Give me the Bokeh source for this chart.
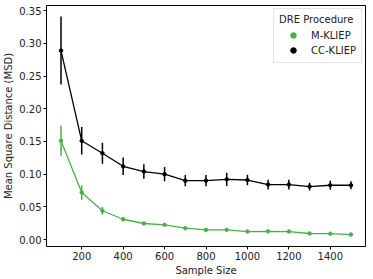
from bokeh.plotting import figure
from bokeh.models import Legend, LegendItem, FixedTicker, ColumnDataSource, Range1d
from bokeh.embed import file_html
from bokeh.resources import INLINE

sample_size = [100, 200, 300, 400, 500, 600, 700, 800, 900, 1000, 1100, 1200, 1300, 1400, 1500]

m_kliep = [0.151, 0.072, 0.044, 0.031, 0.0245, 0.0225, 0.0173, 0.0148, 0.0148, 0.0122, 0.0125, 0.0122, 0.0092, 0.0089, 0.0076]
m_kliep_err = [0.023, 0.011, 0.006, 0.003, 0.002, 0.002, 0.0015, 0.0015, 0.0015, 0.0012, 0.0012, 0.0012, 0.001, 0.001, 0.001]

cc_kliep = [0.289, 0.151, 0.132, 0.112, 0.104, 0.100, 0.090, 0.090, 0.092, 0.091, 0.084, 0.084, 0.081, 0.083, 0.083]
cc_kliep_err = [0.052, 0.021, 0.016, 0.0135, 0.011, 0.011, 0.0085, 0.0085, 0.010, 0.008, 0.0076, 0.0076, 0.006, 0.007, 0.006]

x_ticks = [200, 400, 600, 800, 1000, 1200, 1400]
y_ticks = [0.0, 0.05, 0.10, 0.15, 0.20, 0.25, 0.30, 0.35]

GREEN = "#4daf4a"
BLACK = "#000000"
FONT = "DejaVu Sans"
FS = "10px"

p = figure(width=372, height=278, output_backend="svg", toolbar_location=None,
           x_range=Range1d(30, 1570), y_range=Range1d(-0.0107, 0.358),
           min_border_left=45, min_border_right=7, min_border_top=5, min_border_bottom=32)

p.xgrid.visible = False
p.ygrid.visible = False
p.outline_line_color = "black"
p.outline_line_width = 1
p.outline_line_alpha = 1

for ax in (p.xaxis[0], p.yaxis[0]):
    ax.major_label_text_font = FONT
    ax.major_label_text_font_size = FS
    ax.major_label_text_color = "#222222"
    ax.axis_label_text_font = FONT
    ax.axis_label_text_font_size = FS
    ax.axis_label_text_font_style = "normal"
    ax.axis_label_text_color = "#222222"
    ax.minor_tick_line_color = None
    ax.major_tick_out = 3
    ax.major_tick_in = 0
    ax.major_label_standoff = 2
    ax.axis_label_standoff = 2
    ax.axis_line_color = None

p.xaxis.ticker = FixedTicker(ticks=x_ticks)
p.yaxis.ticker = FixedTicker(ticks=y_ticks)
p.yaxis.major_label_overrides = {t: f"{t:.2f}" for t in y_ticks}
p.xaxis.axis_label = "Sample Size"
p.yaxis.axis_label = "Mean Square Distance (MSD)"

def series(vals, errs, color):
    src = ColumnDataSource(dict(x=sample_size, y=vals,
                                lo=[v - e for v, e in zip(vals, errs)],
                                hi=[v + e for v, e in zip(vals, errs)]))
    p.segment(x0="x", y0="lo", x1="x", y1="hi", source=src, line_color=color, line_width=1.5)
    p.line(x="x", y="y", source=src, line_color=color, line_width=1.3)
    r = p.scatter(x="x", y="y", source=src, size=3.5, fill_color=color, line_color=color)
    return r

r_m = series(m_kliep, m_kliep_err, GREEN)
r_cc = series(cc_kliep, cc_kliep_err, BLACK)

legend = Legend(items=[LegendItem(label="M-KLIEP", renderers=[r_m]),
                       LegendItem(label="CC-KLIEP", renderers=[r_cc])],
                location="top_right")
legend.title = "DRE Procedure"
legend.title_text_font = FONT
legend.title_text_font_size = FS
legend.title_text_font_style = "normal"
legend.title_text_color = "#222222"
legend.title_standoff = 3
legend.label_text_font = FONT
legend.label_text_font_size = FS
legend.label_text_color = "#222222"
legend.border_line_color = "#cccccc"
legend.border_line_width = 1
legend.margin = 3
legend.padding = 5
legend.spacing = 1
legend.glyph_width = 28
legend.glyph_height = 14
legend.label_height = 14
legend.label_standoff = 4
legend.background_fill_alpha = 0.8
p.add_layout(legend)

open("out.html", "w").write(file_html(p, INLINE))
